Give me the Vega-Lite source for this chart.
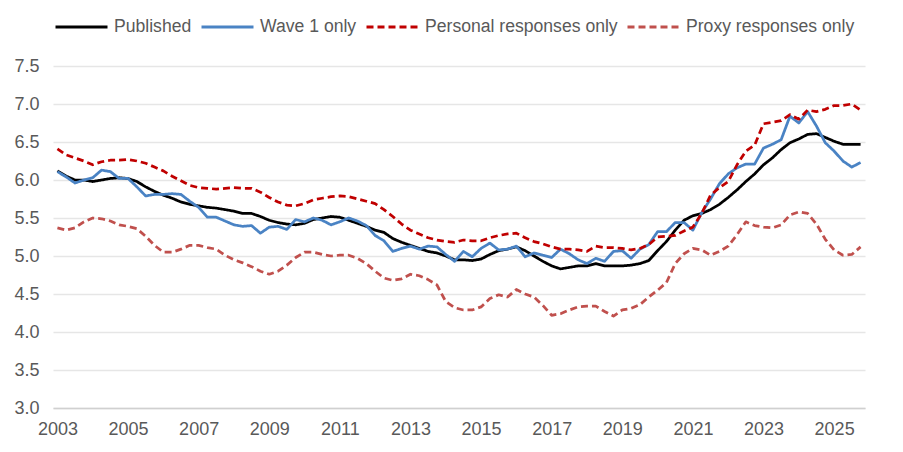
{
  "$schema": "https://vega.github.io/schema/vega-lite/v6.json",
  "width": 812,
  "height": 342,
  "autosize": {"type": "none"},
  "padding": {"left": 53, "top": 66, "right": 38, "bottom": 44},
  "background": "white",
  "config": {
    "view": {"stroke": null},
    "font": "Liberation Sans",
    "axis": {"labelFont": "Liberation Sans", "labelFontSize": 18, "labelColor": "#595959"},
    "legend": {"labelFont": "Liberation Sans", "labelFontSize": 17.6, "labelColor": "#595959"}
  },
  "data": {
    "values": [
      {"t": 2003.00, "Published": 6.12, "Wave 1 only": 6.11, "Personal responses only": 6.41, "Proxy responses only": 5.37},
      {"t": 2003.25, "Published": 6.05, "Wave 1 only": 6.04, "Personal responses only": 6.33, "Proxy responses only": 5.34},
      {"t": 2003.50, "Published": 6.00, "Wave 1 only": 5.96, "Personal responses only": 6.29, "Proxy responses only": 5.37},
      {"t": 2003.75, "Published": 6.00, "Wave 1 only": 6.00, "Personal responses only": 6.25, "Proxy responses only": 5.45},
      {"t": 2004.00, "Published": 5.98, "Wave 1 only": 6.03, "Personal responses only": 6.20, "Proxy responses only": 5.50},
      {"t": 2004.25, "Published": 6.00, "Wave 1 only": 6.13, "Personal responses only": 6.24, "Proxy responses only": 5.49},
      {"t": 2004.50, "Published": 6.02, "Wave 1 only": 6.11, "Personal responses only": 6.26, "Proxy responses only": 5.46},
      {"t": 2004.75, "Published": 6.03, "Wave 1 only": 6.02, "Personal responses only": 6.26, "Proxy responses only": 5.41},
      {"t": 2005.00, "Published": 6.02, "Wave 1 only": 6.02, "Personal responses only": 6.27, "Proxy responses only": 5.39},
      {"t": 2005.25, "Published": 5.98, "Wave 1 only": 5.91, "Personal responses only": 6.25, "Proxy responses only": 5.36},
      {"t": 2005.50, "Published": 5.91, "Wave 1 only": 5.79, "Personal responses only": 6.22, "Proxy responses only": 5.26},
      {"t": 2005.75, "Published": 5.85, "Wave 1 only": 5.81, "Personal responses only": 6.17, "Proxy responses only": 5.14},
      {"t": 2006.00, "Published": 5.80, "Wave 1 only": 5.81, "Personal responses only": 6.12, "Proxy responses only": 5.05},
      {"t": 2006.25, "Published": 5.76, "Wave 1 only": 5.82, "Personal responses only": 6.05, "Proxy responses only": 5.05},
      {"t": 2006.50, "Published": 5.71, "Wave 1 only": 5.81, "Personal responses only": 5.99, "Proxy responses only": 5.09},
      {"t": 2006.75, "Published": 5.68, "Wave 1 only": 5.72, "Personal responses only": 5.93, "Proxy responses only": 5.14},
      {"t": 2007.00, "Published": 5.66, "Wave 1 only": 5.64, "Personal responses only": 5.90, "Proxy responses only": 5.14},
      {"t": 2007.25, "Published": 5.64, "Wave 1 only": 5.51, "Personal responses only": 5.89, "Proxy responses only": 5.11},
      {"t": 2007.50, "Published": 5.63, "Wave 1 only": 5.51, "Personal responses only": 5.88, "Proxy responses only": 5.09},
      {"t": 2007.75, "Published": 5.61, "Wave 1 only": 5.46, "Personal responses only": 5.89, "Proxy responses only": 5.01},
      {"t": 2008.00, "Published": 5.59, "Wave 1 only": 5.41, "Personal responses only": 5.90, "Proxy responses only": 4.95},
      {"t": 2008.25, "Published": 5.56, "Wave 1 only": 5.39, "Personal responses only": 5.89, "Proxy responses only": 4.91},
      {"t": 2008.50, "Published": 5.56, "Wave 1 only": 5.40, "Personal responses only": 5.89, "Proxy responses only": 4.86},
      {"t": 2008.75, "Published": 5.52, "Wave 1 only": 5.30, "Personal responses only": 5.84, "Proxy responses only": 4.80},
      {"t": 2009.00, "Published": 5.47, "Wave 1 only": 5.38, "Personal responses only": 5.77, "Proxy responses only": 4.76},
      {"t": 2009.25, "Published": 5.44, "Wave 1 only": 5.39, "Personal responses only": 5.71, "Proxy responses only": 4.80},
      {"t": 2009.50, "Published": 5.42, "Wave 1 only": 5.35, "Personal responses only": 5.67, "Proxy responses only": 4.88},
      {"t": 2009.75, "Published": 5.41, "Wave 1 only": 5.48, "Personal responses only": 5.66, "Proxy responses only": 4.98},
      {"t": 2010.00, "Published": 5.43, "Wave 1 only": 5.45, "Personal responses only": 5.69, "Proxy responses only": 5.05},
      {"t": 2010.25, "Published": 5.48, "Wave 1 only": 5.50, "Personal responses only": 5.74, "Proxy responses only": 5.05},
      {"t": 2010.50, "Published": 5.50, "Wave 1 only": 5.47, "Personal responses only": 5.76, "Proxy responses only": 5.02},
      {"t": 2010.75, "Published": 5.52, "Wave 1 only": 5.41, "Personal responses only": 5.78, "Proxy responses only": 5.00},
      {"t": 2011.00, "Published": 5.51, "Wave 1 only": 5.45, "Personal responses only": 5.79, "Proxy responses only": 5.01},
      {"t": 2011.25, "Published": 5.47, "Wave 1 only": 5.50, "Personal responses only": 5.78, "Proxy responses only": 5.01},
      {"t": 2011.50, "Published": 5.43, "Wave 1 only": 5.46, "Personal responses only": 5.75, "Proxy responses only": 4.97},
      {"t": 2011.75, "Published": 5.39, "Wave 1 only": 5.40, "Personal responses only": 5.72, "Proxy responses only": 4.90},
      {"t": 2012.00, "Published": 5.34, "Wave 1 only": 5.27, "Personal responses only": 5.69, "Proxy responses only": 4.80},
      {"t": 2012.25, "Published": 5.31, "Wave 1 only": 5.20, "Personal responses only": 5.61, "Proxy responses only": 4.71},
      {"t": 2012.50, "Published": 5.23, "Wave 1 only": 5.06, "Personal responses only": 5.52, "Proxy responses only": 4.68},
      {"t": 2012.75, "Published": 5.18, "Wave 1 only": 5.10, "Personal responses only": 5.42, "Proxy responses only": 4.70},
      {"t": 2013.00, "Published": 5.14, "Wave 1 only": 5.13, "Personal responses only": 5.34, "Proxy responses only": 4.76},
      {"t": 2013.25, "Published": 5.10, "Wave 1 only": 5.09, "Personal responses only": 5.29, "Proxy responses only": 4.74},
      {"t": 2013.50, "Published": 5.06, "Wave 1 only": 5.13, "Personal responses only": 5.24, "Proxy responses only": 4.69},
      {"t": 2013.75, "Published": 5.04, "Wave 1 only": 5.12, "Personal responses only": 5.21, "Proxy responses only": 4.62},
      {"t": 2014.00, "Published": 5.00, "Wave 1 only": 5.02, "Personal responses only": 5.19, "Proxy responses only": 4.40},
      {"t": 2014.25, "Published": 4.95, "Wave 1 only": 4.93, "Personal responses only": 5.18, "Proxy responses only": 4.32},
      {"t": 2014.50, "Published": 4.95, "Wave 1 only": 5.06, "Personal responses only": 5.21, "Proxy responses only": 4.29},
      {"t": 2014.75, "Published": 4.94, "Wave 1 only": 4.99, "Personal responses only": 5.20, "Proxy responses only": 4.29},
      {"t": 2015.00, "Published": 4.96, "Wave 1 only": 5.10, "Personal responses only": 5.20, "Proxy responses only": 4.33},
      {"t": 2015.25, "Published": 5.02, "Wave 1 only": 5.17, "Personal responses only": 5.24, "Proxy responses only": 4.44},
      {"t": 2015.50, "Published": 5.07, "Wave 1 only": 5.08, "Personal responses only": 5.27, "Proxy responses only": 4.49},
      {"t": 2015.75, "Published": 5.09, "Wave 1 only": 5.09, "Personal responses only": 5.29, "Proxy responses only": 4.46},
      {"t": 2016.00, "Published": 5.12, "Wave 1 only": 5.13, "Personal responses only": 5.30, "Proxy responses only": 4.56},
      {"t": 2016.25, "Published": 5.07, "Wave 1 only": 4.99, "Personal responses only": 5.24, "Proxy responses only": 4.50},
      {"t": 2016.50, "Published": 5.00, "Wave 1 only": 5.04, "Personal responses only": 5.19, "Proxy responses only": 4.46},
      {"t": 2016.75, "Published": 4.93, "Wave 1 only": 5.01, "Personal responses only": 5.16, "Proxy responses only": 4.35},
      {"t": 2017.00, "Published": 4.87, "Wave 1 only": 4.98, "Personal responses only": 5.12, "Proxy responses only": 4.22},
      {"t": 2017.25, "Published": 4.83, "Wave 1 only": 5.09, "Personal responses only": 5.09, "Proxy responses only": 4.24},
      {"t": 2017.50, "Published": 4.85, "Wave 1 only": 5.03, "Personal responses only": 5.09, "Proxy responses only": 4.29},
      {"t": 2017.75, "Published": 4.87, "Wave 1 only": 4.95, "Personal responses only": 5.08, "Proxy responses only": 4.33},
      {"t": 2018.00, "Published": 4.87, "Wave 1 only": 4.90, "Personal responses only": 5.06, "Proxy responses only": 4.34},
      {"t": 2018.25, "Published": 4.90, "Wave 1 only": 4.97, "Personal responses only": 5.13, "Proxy responses only": 4.34},
      {"t": 2018.50, "Published": 4.87, "Wave 1 only": 4.93, "Personal responses only": 5.11, "Proxy responses only": 4.27},
      {"t": 2018.75, "Published": 4.87, "Wave 1 only": 5.06, "Personal responses only": 5.11, "Proxy responses only": 4.21},
      {"t": 2019.00, "Published": 4.87, "Wave 1 only": 5.07, "Personal responses only": 5.10, "Proxy responses only": 4.29},
      {"t": 2019.25, "Published": 4.88, "Wave 1 only": 4.97, "Personal responses only": 5.08, "Proxy responses only": 4.31},
      {"t": 2019.50, "Published": 4.90, "Wave 1 only": 5.09, "Personal responses only": 5.10, "Proxy responses only": 4.36},
      {"t": 2019.75, "Published": 4.94, "Wave 1 only": 5.15, "Personal responses only": 5.15, "Proxy responses only": 4.46},
      {"t": 2020.00, "Published": 5.07, "Wave 1 only": 5.32, "Personal responses only": 5.25, "Proxy responses only": 4.55},
      {"t": 2020.25, "Published": 5.19, "Wave 1 only": 5.32, "Personal responses only": 5.26, "Proxy responses only": 4.65},
      {"t": 2020.50, "Published": 5.34, "Wave 1 only": 5.44, "Personal responses only": 5.27, "Proxy responses only": 4.90},
      {"t": 2020.75, "Published": 5.47, "Wave 1 only": 5.44, "Personal responses only": 5.33, "Proxy responses only": 5.03},
      {"t": 2021.00, "Published": 5.53, "Wave 1 only": 5.34, "Personal responses only": 5.38, "Proxy responses only": 5.10},
      {"t": 2021.25, "Published": 5.56, "Wave 1 only": 5.57, "Personal responses only": 5.56, "Proxy responses only": 5.08},
      {"t": 2021.50, "Published": 5.61, "Wave 1 only": 5.75, "Personal responses only": 5.80, "Proxy responses only": 5.01},
      {"t": 2021.75, "Published": 5.68, "Wave 1 only": 5.95, "Personal responses only": 5.90, "Proxy responses only": 5.06},
      {"t": 2022.00, "Published": 5.77, "Wave 1 only": 6.08, "Personal responses only": 5.98, "Proxy responses only": 5.13},
      {"t": 2022.25, "Published": 5.87, "Wave 1 only": 6.16, "Personal responses only": 6.20, "Proxy responses only": 5.28},
      {"t": 2022.50, "Published": 5.98, "Wave 1 only": 6.21, "Personal responses only": 6.38, "Proxy responses only": 5.45},
      {"t": 2022.75, "Published": 6.08, "Wave 1 only": 6.21, "Personal responses only": 6.46, "Proxy responses only": 5.40},
      {"t": 2023.00, "Published": 6.20, "Wave 1 only": 6.42, "Personal responses only": 6.74, "Proxy responses only": 5.38},
      {"t": 2023.25, "Published": 6.29, "Wave 1 only": 6.47, "Personal responses only": 6.76, "Proxy responses only": 5.37},
      {"t": 2023.50, "Published": 6.40, "Wave 1 only": 6.53, "Personal responses only": 6.78, "Proxy responses only": 5.41},
      {"t": 2023.75, "Published": 6.49, "Wave 1 only": 6.84, "Personal responses only": 6.86, "Proxy responses only": 5.54},
      {"t": 2024.00, "Published": 6.54, "Wave 1 only": 6.75, "Personal responses only": 6.80, "Proxy responses only": 5.58},
      {"t": 2024.25, "Published": 6.60, "Wave 1 only": 6.90, "Personal responses only": 6.92, "Proxy responses only": 5.56},
      {"t": 2024.50, "Published": 6.61, "Wave 1 only": 6.71, "Personal responses only": 6.90, "Proxy responses only": 5.42},
      {"t": 2024.75, "Published": 6.56, "Wave 1 only": 6.49, "Personal responses only": 6.93, "Proxy responses only": 5.22},
      {"t": 2025.00, "Published": 6.51, "Wave 1 only": 6.38, "Personal responses only": 6.98, "Proxy responses only": 5.08},
      {"t": 2025.25, "Published": 6.47, "Wave 1 only": 6.25, "Personal responses only": 6.98, "Proxy responses only": 5.01},
      {"t": 2025.50, "Published": 6.47, "Wave 1 only": 6.17, "Personal responses only": 7.00, "Proxy responses only": 5.02},
      {"t": 2025.75, "Published": 6.47, "Wave 1 only": 6.23, "Personal responses only": 6.92, "Proxy responses only": 5.12}
    ]
  },
  "transform": [
    {"fold": ["Published", "Wave 1 only", "Personal responses only", "Proxy responses only"], "as": ["series", "rate"]}
  ],
  "mark": {"type": "line", "strokeWidth": 2.75, "strokeCap": "butt", "strokeJoin": "round"},
  "encoding": {
    "x": {
      "field": "t",
      "type": "quantitative",
      "title": null,
      "scale": {"domain": [2002.875, 2025.875], "nice": false, "zero": false},
      "axis": {
        "values": [2003, 2005, 2007, 2009, 2011, 2013, 2015, 2017, 2019, 2021, 2023, 2025],
        "format": "d",
        "grid": false,
        "ticks": false,
        "tickSize": 0,
        "labelPadding": 12,
        "domainColor": "#d0d0d0",
        "domainWidth": 1.5,
        "labelFlush": false
      }
    },
    "y": {
      "field": "rate",
      "type": "quantitative",
      "title": null,
      "scale": {"domain": [3, 7.5], "nice": false, "zero": false},
      "axis": {
        "values": [3, 3.5, 4, 4.5, 5, 5.5, 6, 6.5, 7, 7.5],
        "format": ".1f",
        "domain": false,
        "ticks": false,
        "tickSize": 0,
        "labelPadding": 14,
        "gridColor": "#e6e6e6",
        "gridWidth": 1.3
      }
    },
    "color": {
      "field": "series",
      "type": "nominal",
      "title": null,
      "scale": {
        "domain": ["Published", "Wave 1 only", "Personal responses only", "Proxy responses only"],
        "range": ["#000000", "#4a83c4", "#c00000", "#c0504d"]
      },
      "legend": {
        "orient": "none",
        "legendX": 1,
        "legendY": -67,
        "direction": "horizontal",
        "symbolType": "stroke",
        "symbolSize": 2704,
        "symbolStrokeWidth": 3,
        "labelOffset": 5,
        "columnPadding": 3,
        "labelLimit": 400
      }
    },
    "strokeDash": {
      "field": "series",
      "type": "nominal",
      "title": null,
      "scale": {
        "domain": ["Published", "Wave 1 only", "Personal responses only", "Proxy responses only"],
        "range": [[1, 0], [1, 0], [7, 4], [7, 4]]
      }
    }
  }
}
